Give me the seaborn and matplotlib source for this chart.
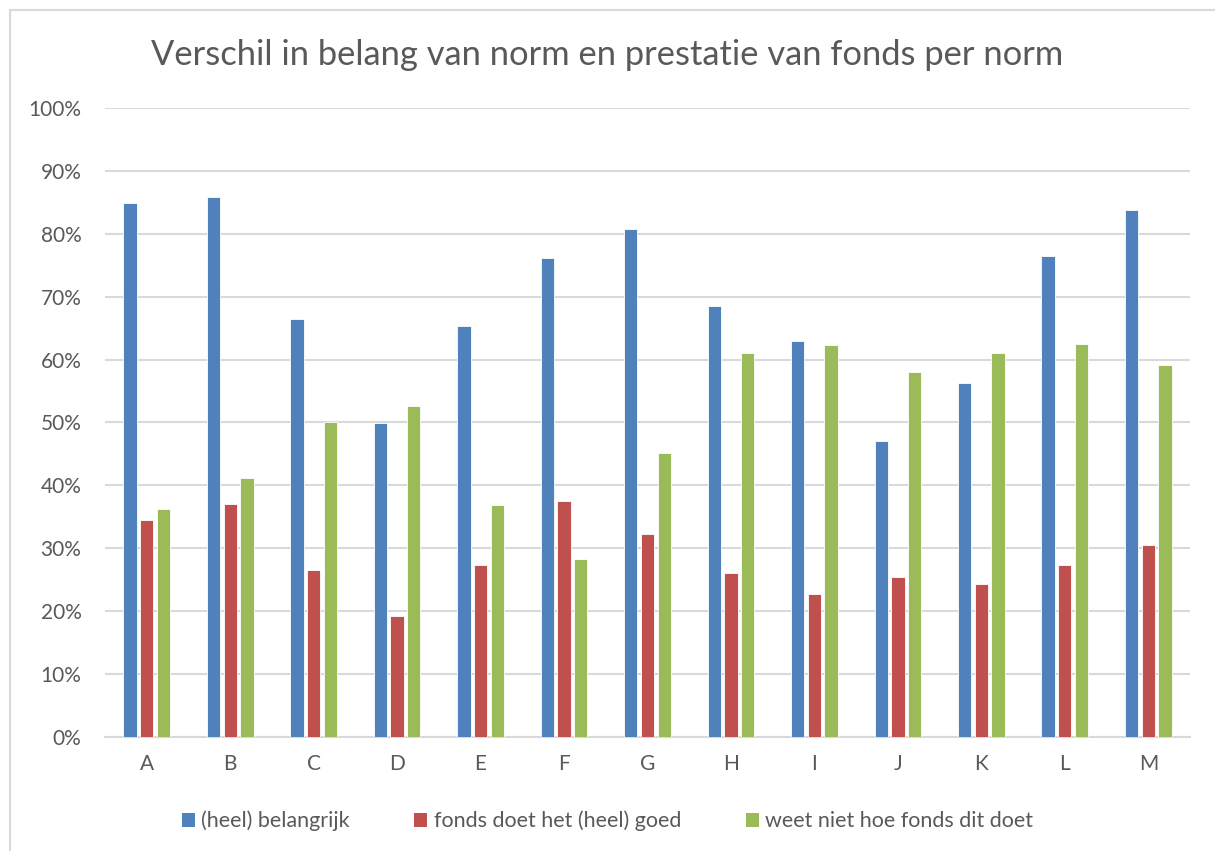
import matplotlib
matplotlib.use("Agg")
import matplotlib.pyplot as plt
import matplotlib.patches as mpatches
from matplotlib.ticker import PercentFormatter, MultipleLocator
import seaborn as sns
import pandas as pd

categories = ["A", "B", "C", "D", "E", "F", "G", "H", "I", "J", "K", "L", "M"]
belangrijk = [84.9, 85.8, 66.5, 49.9, 65.3, 76.2, 80.7, 68.6, 63.0, 47.1, 56.3, 76.4, 83.8]
goed = [34.5, 37.0, 26.6, 19.2, 27.3, 37.5, 32.3, 26.1, 22.7, 25.5, 24.4, 27.3, 30.6]
weet_niet = [36.3, 41.1, 50.1, 52.6, 36.9, 28.3, 45.2, 61.0, 62.3, 58.1, 61.0, 62.5, 59.1]
series_names = ["(heel) belangrijk", "fonds doet het (heel) goed", "weet niet hoe fonds dit doet"]
title = "Verschil in belang van norm en prestatie van fonds per norm"

rows = []
for name, vals in zip(series_names, [belangrijk, goed, weet_niet]):
    for c, v in zip(categories, vals):
        rows.append({"norm": c, "serie": name, "waarde": v / 100.0})
df = pd.DataFrame(rows)

sns.set_theme(style="white")
plt.rcParams["font.family"] = ["Lato", "DejaVu Sans"]

colors = ["#4F81BD", "#C0504D", "#9BBB59"]
W, H = 1215, 851
fig = plt.figure(figsize=(W / 100, H / 100), dpi=100)
ax = fig.add_axes([105 / W, (H - 737) / H, (1190 - 105) / W, (737 - 108) / H])

sns.barplot(data=df, x="norm", y="waarde", hue="serie", palette=colors, saturation=1,
            hue_order=series_names, order=categories, width=0.6, gap=0.2,
            edgecolor="white", linewidth=0.6, ax=ax, legend=False, zorder=3)

ax.set_ylim(0, 1.0)
ax.set_xlim(-0.5, len(categories) - 0.5)
ax.yaxis.set_major_locator(MultipleLocator(0.1))
ax.yaxis.set_major_formatter(PercentFormatter(1.0, decimals=0))
ax.grid(axis="y", color="#D9D9D9", linewidth=1.5, zorder=0)
ax.set_axisbelow(True)
for s in ["top", "right", "left"]:
    ax.spines[s].set_visible(False)
ax.spines["bottom"].set_color("#D9D9D9")
ax.spines["bottom"].set_linewidth(1.5)
ax.tick_params(axis="both", length=0, labelsize=15, labelcolor="#595959")
ax.tick_params(axis="y", pad=17)
ax.tick_params(axis="x", pad=12)
ax.set_xlabel("")
ax.set_ylabel("")

fig.text(0.5, (H - 55) / H, title, ha="center", va="center", fontsize=24.8, color="#595959")

handles = [mpatches.Patch(facecolor=c, edgecolor="none") for c in colors]
fig.legend(handles, series_names, loc="center", bbox_to_anchor=(0.5, (H - 821) / H),
           ncol=3, frameon=False, fontsize=15.5, labelcolor="#595959",
           handlelength=0.6, handleheight=0.6, handletextpad=0.3, columnspacing=3.0)

# chart border
border = mpatches.Rectangle((10 / W, -0.05), 1.2, (H - 10) / H + 0.05, transform=fig.transFigure,
                            fill=False, edgecolor="#D9D9D9", linewidth=1.5)
fig.patches.append(border)

fig.savefig("out.png", dpi=100)
